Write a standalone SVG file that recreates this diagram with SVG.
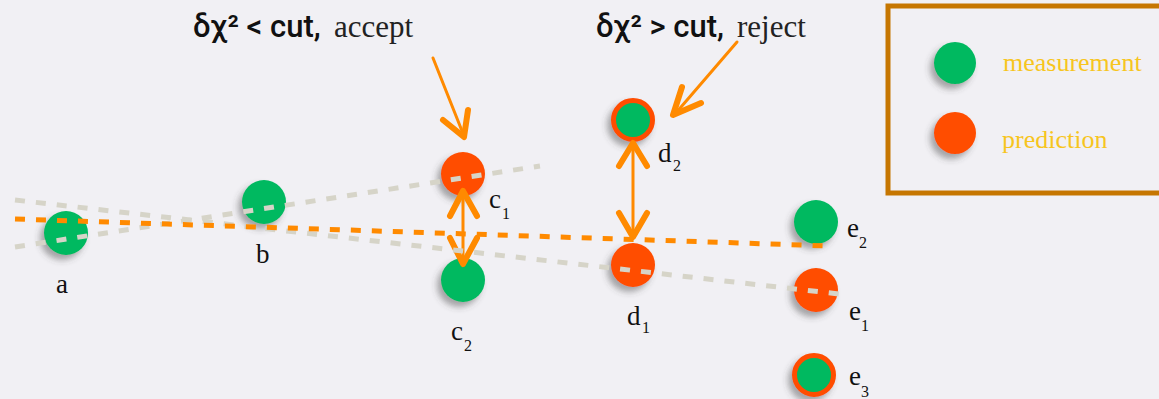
<svg xmlns="http://www.w3.org/2000/svg" width="1159" height="399" viewBox="0 0 1159 399">
<defs>
<filter id="sh" x="-50%" y="-50%" width="200%" height="200%">
<feDropShadow dx="-4" dy="5" stdDeviation="3" flood-color="#444" flood-opacity="0.45"/>
</filter>
<style>
.g{fill:#00b960;}
.o{fill:#ff4d00;}
.ring{fill:#00b960;stroke:#ff4d00;stroke-width:5;}
.lbl{font-family:"Liberation Serif",serif;font-size:27px;fill:#111;}
.sub{font-family:"Liberation Serif",serif;font-size:16px;fill:#111;}
.hd{font-family:Roboto,"Liberation Sans",Arial,sans-serif;font-size:31px;font-weight:500;fill:#111;}
.hs{font-family:"Liberation Serif",serif;font-size:31px;font-weight:normal;fill:#222;}
.leg{font-family:"Liberation Serif",serif;font-size:26px;fill:#f7c51e;}
.arr{stroke:#ff8a00;stroke-width:3;fill:none;stroke-linecap:round;}
.chev{stroke:#ff8a00;stroke-width:6;fill:none;stroke-linecap:round;stroke-linejoin:round;}
.gd{stroke:#d6d4c8;stroke-width:5;fill:none;stroke-dasharray:10 11;}
.od{stroke:#ff8a00;stroke-width:5;fill:none;stroke-dasharray:10 11;}
</style>
</defs>
<rect x="0" y="0" width="1159" height="399" fill="#f1f0f4"/>

<g id="legend">
<rect x="888" y="6" width="300" height="187" fill="none" stroke="#c67600" stroke-width="5"/>
<circle class="g" cx="955" cy="63" r="21" filter="url(#sh)"/>
<text class="leg" x="1003" y="71">measurement</text>
<circle class="o" cx="955" cy="133" r="21" filter="url(#sh)"/>
<text class="leg" x="1002" y="148">prediction</text>
</g>

<g id="title-accept">
<text class="hd" x="193" y="37">δχ² &lt; cut,</text>
<text class="hs" x="334" y="37">accept</text>
</g>
<g id="title-reject">
<text class="hd" x="596" y="37">δχ² &gt; cut,</text>
<text class="hs" x="737" y="37">reject</text>
</g>

<g id="node-a">
<circle class="g" cx="66" cy="233" r="22" filter="url(#sh)"/>
<text class="lbl" x="56" y="293">a</text>
</g>
<g id="node-b">
<circle class="g" cx="264" cy="202" r="22" filter="url(#sh)"/>
<text class="lbl" x="256" y="263">b</text>
</g>
<g id="node-c1">
<circle class="o" cx="463" cy="174" r="22" filter="url(#sh)"/>
<text class="lbl" x="489" y="208">c</text><text class="sub" x="502" y="219">1</text>
</g>
<g id="node-c2">
<circle class="g" cx="463" cy="280" r="22" filter="url(#sh)"/>
<text class="lbl" x="451" y="340">c</text><text class="sub" x="464" y="351">2</text>
</g>
<g id="node-d2">
<circle class="ring" cx="633" cy="120" r="19.5" filter="url(#sh)"/>
<text class="lbl" x="658" y="162">d</text><text class="sub" x="673" y="171">2</text>
</g>
<g id="node-d1">
<circle class="o" cx="633" cy="265" r="22" filter="url(#sh)"/>
<text class="lbl" x="627" y="325">d</text><text class="sub" x="642" y="333">1</text>
</g>
<g id="node-e2">
<circle class="g" cx="816" cy="222" r="22" filter="url(#sh)"/>
<text class="lbl" x="847" y="237">e</text><text class="sub" x="859" y="248">2</text>
</g>
<g id="node-e1">
<circle class="o" cx="816" cy="290" r="22" filter="url(#sh)"/>
<text class="lbl" x="849" y="320">e</text><text class="sub" x="861" y="331">1</text>
</g>
<g id="node-e3">
<circle class="ring" cx="814" cy="375" r="19.5" filter="url(#sh)"/>
<text class="lbl" x="849" y="385">e</text><text class="sub" x="861" y="397">3</text>
</g>

<g id="connectors">
<line class="arr" x1="433" y1="58" x2="464" y2="136"/>
<polyline class="chev" points="443,120 464,137 468,110"/>
<line class="arr" x1="737" y1="42" x2="675" y2="114"/>
<polyline class="chev" points="682,87 673,115 701,103"/>
<line class="arr" x1="463" y1="192" x2="463" y2="263"/>
<polyline class="chev" points="450,216 463,191 477,216"/>
<polyline class="chev" points="450,238 463,264 477,238"/>
<line class="arr" x1="633" y1="145" x2="633" y2="236"/>
<polyline class="chev" points="619,166 633,143 647,166"/>
<polyline class="chev" points="619,213 633,237 647,213"/>
<line class="gd" x1="15" y1="247" x2="540" y2="166"/>
<line class="gd" x1="15" y1="200" x2="848" y2="295"/>
<line class="od" x1="15" y1="219" x2="831" y2="246"/>
</g>
</svg>
